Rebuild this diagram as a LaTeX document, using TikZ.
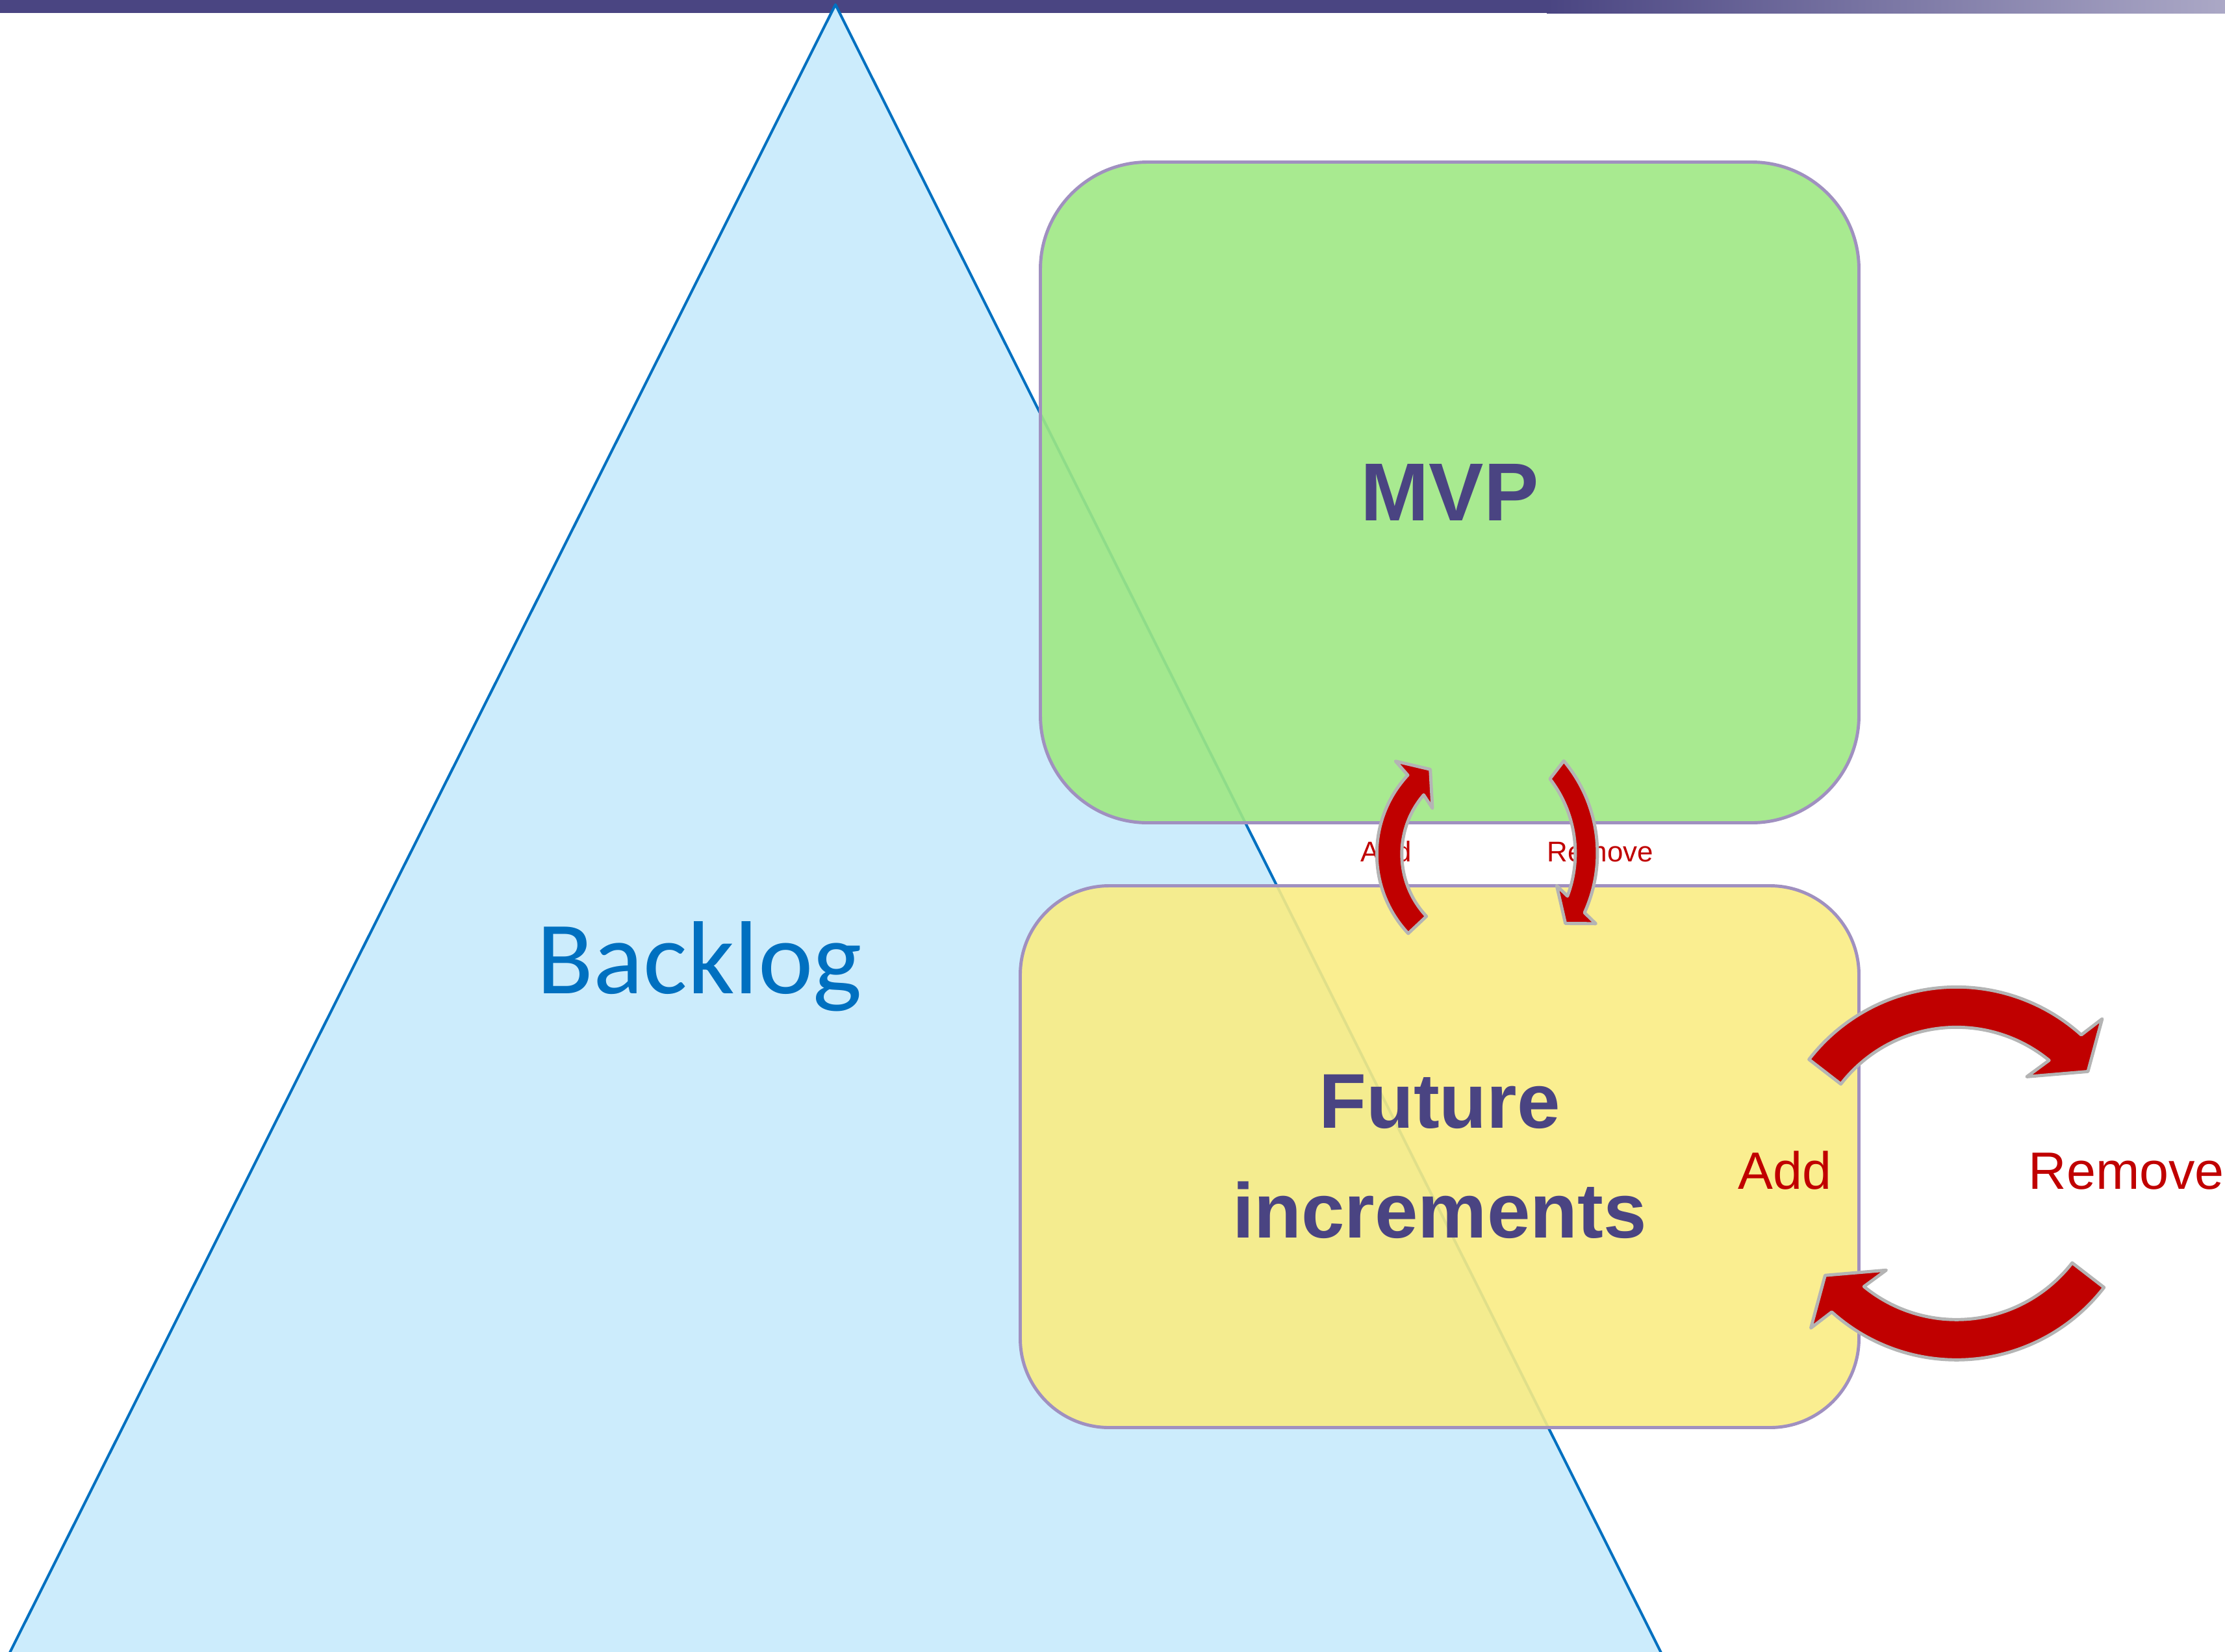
\documentclass[tikz,border=0pt]{standalone}
\usepackage{fontspec}
\setmainfont{Liberation Sans}
\newfontfamily\backlogfont{Carlito}
\definecolor{barpurple}{RGB}{74, 69, 130}
\definecolor{barfade}{RGB}{171, 168, 198}
\definecolor{backlogblue}{RGB}{0, 112, 192}
\definecolor{backlogfill}{RGB}{204, 236, 252}
\definecolor{mvpgreen}{RGB}{159, 232, 132}
\definecolor{futureyellow}{RGB}{249, 236, 132}
\definecolor{boxedge}{RGB}{160, 144, 192}
\definecolor{titlepurple}{RGB}{74, 68, 130}
\definecolor{turnred}{RGB}{192, 0, 0}
\definecolor{turngrey}{RGB}{180, 180, 180}
\usepackage{tikz}

\begin{document}
\begin{tikzpicture}[
  stage/.style={draw=boxedge, line width=1.4pt, fill opacity=0.9, text opacity=1, text=titlepurple, align=center},
  turnarrow/.style={fill=turnred, draw=turngrey, line width=1.4pt, line join=round},
  turnlabel/.style={text=turnred, anchor=base, inner sep=0pt},
  pics/bigturn/.style={code={
    \draw[turnarrow] (142.3:2.87) arc[start angle=142.3, end angle=48, radius=2.87]
      -- (46.7:3.27) -- (37.8:2.56) -- (54:1.84) -- (50.7:2.25)
      arc[start angle=50.7, end angle=142.3, radius=2.25] -- cycle;
  }}
]
\useasboundingbox (0,0) rectangle (34.25,-25.42);
\clip (0,0) rectangle (34.25,-25.42);

% title bar
\fill[barpurple] (0,0) rectangle (34.25,-0.2);
\shade[left color=barpurple, right color=barfade] (23.81,0) rectangle (34.25,-0.2);

% backlog pyramid
\draw[fill=backlogfill, draw=backlogblue, line width=1.15pt, line join=round] (12.86,-0.07) -- (25.85,-26) -- (-0.13,-26) -- cycle;
\node[font=\backlogfont\fontsize{45.5}{54}\selectfont, text=backlogblue, anchor=base, inner sep=0pt] (backlog) at (10.77,-15.29) {Backlog};

% release boxes
\node[stage, fill=mvpgreen, minimum width=12.60cm, minimum height=10.17cm, rounded corners=1.65cm, font=\fontsize{36}{48}\selectfont\bfseries] (mvp) at (22.315,-7.58) {MVP};
\node[stage, fill=futureyellow, minimum width=12.91cm, minimum height=8.34cm, rounded corners=1.37cm, font=\fontsize{34}{48}\selectfont\bfseries] (future) at (22.16,-17.805) {Future\\increments};

% labels
\node[turnlabel, font=\fontsize{12.5}{15}\selectfont] (addin) at (21.338,-13.267) {Add};
\node[turnlabel, font=\fontsize{12.5}{15}\selectfont] (removein) at (24.634,-13.267) {Remove};
\node[turnlabel, font=\fontsize{23}{28}\selectfont] (addout) at (27.478,-18.307) {Add};
\node[turnlabel, font=\fontsize{23}{28}\selectfont] (removeout) at (32.734,-18.307) {Remove};

% swap arrows between the boxes
\begin{scope}[shift={(22.978,-13.147)}]
  \draw[turnarrow] (223.2:1.785) arc[start angle=223.2, end angle=137.1, radius=1.785]
    -- (136.3:2.07) -- (126.4:1.62) -- (142.8:1.165) -- (139.4:1.40)
    arc[start angle=139.4, end angle=223.2, radius=1.40] -- cycle;
\end{scope}
\begin{scope}[shift={(22.379,-13.133)}]
  \draw[turnarrow] (40:2.21) arc[start angle=40, end angle=-24.5, radius=2.21]
    -- (-26.4:2.44) -- (-32.2:2.03) -- (-17.5:1.66) -- (-20.7:1.87)
    arc[start angle=-20.7, end angle=37.7, radius=1.87] -- cycle;
\end{scope}

% add/remove loop
\pic at (30.117,-18.063) {bigturn};
\pic[rotate=180] at (30.117,-18.063) {bigturn};
\end{tikzpicture}
\end{document}
